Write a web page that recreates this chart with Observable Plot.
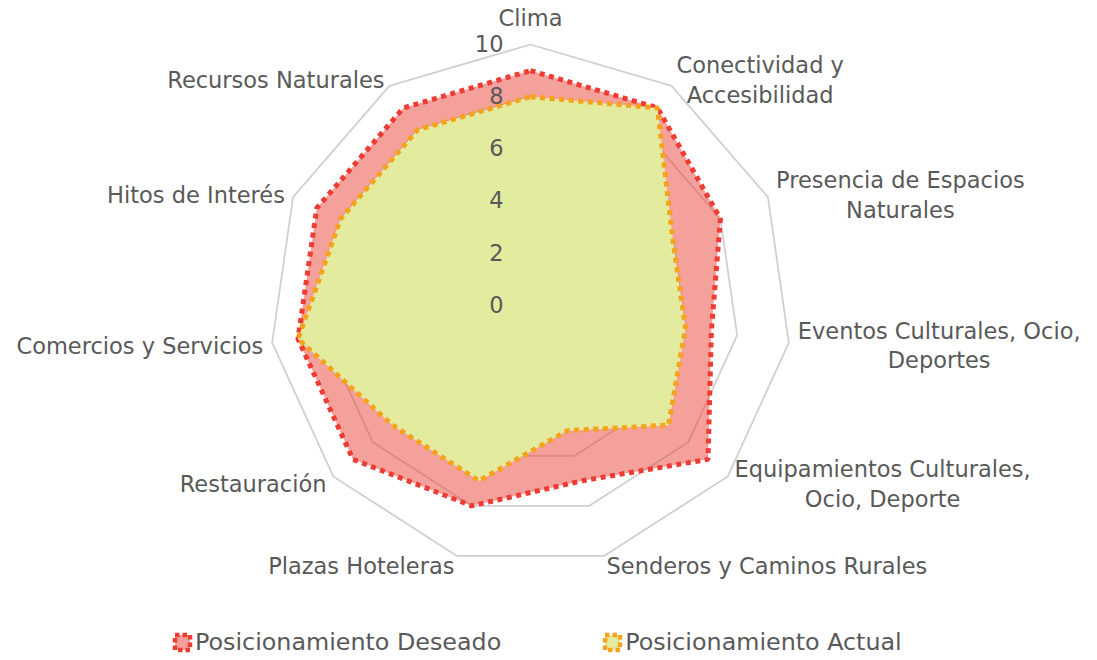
<!DOCTYPE html>
<html>
<head>
<meta charset="utf-8">
<script src="https://cdn.jsdelivr.net/npm/d3@7"></script>
<script src="https://cdn.jsdelivr.net/npm/@observablehq/plot@0.6"></script>
<style>
  body { margin: 0; background: #fff; font-family: "DejaVu Sans", sans-serif; }
  #wrap { position: relative; width: 1097px; height: 660px; overflow: hidden; }
  #legend { position: absolute; left: 172px; top: 628px; display: flex; align-items: center;
            font-size: 23.8px; color: #595959; white-space: nowrap; }
  .item { display: flex; align-items: center; }
  .item + .item { margin-left: 101px; }
  .item svg { margin-right: 2px; }
</style>
</head>
<body>
<div id="wrap"><div id="chart"></div><div id="legend"></div></div>
<script>
// ---- data ----
const categories = [
  "Clima",
  "Conectividad y\nAccesibilidad",
  "Presencia de Espacios\nNaturales",
  "Eventos Culturales, Ocio,\nDeportes",
  "Equipamientos Culturales,\nOcio, Deporte",
  "Senderos y Caminos Rurales",
  "Plazas Hoteleras",
  "Restauración",
  "Comercios y Servicios",
  "Hitos de Interés",
  "Recursos Naturales"
];
const deseado = [9, 9, 8, 7, 9, 7, 8, 9, 9, 9, 9];
const actual  = [8, 9, 6, 6, 7, 5, 7, 7, 9, 8, 8];
const tickValues = [0, 2, 4, 6, 8, 10];
const seriesNames = ["Posicionamiento Deseado", "Posicionamiento Actual"];

// ---- layout / style ----
const W = 1097, H = 620;
const CX = 530, CY = 305, PX = 26.1;         // center and pixels per unit
const FONT = 22.5, FAMILY = "DejaVu Sans";
const TEXT = "#595959", GRID = "#D0D0D0";
const RED = "#EE3B33", RED_FILL = "#E94137", ORANGE = "#F7A21B", GREEN_FILL = "#E2EB9E";
const n = categories.length;
const ang = i => 2 * Math.PI * i / n;
const px = (r, i) => r * Math.sin(ang(i));
const py = (r, i) => r * Math.cos(ang(i));
const labelR = 270 / PX;

const polygon = (vals, name) => vals.map((v, i) => ({name, i, v, x: px(v, i), y: py(v, i)}));
const gridPts = tickValues.filter(t => t > 0).flatMap(t =>
  categories.map((c, i) => ({t, x: px(t, i), y: py(t, i)})));

// measure text for label block widths
const ctx = document.createElement("canvas").getContext("2d");
ctx.font = `${FONT}px "${FAMILY}"`;
const blockW = s => d3.max(s.split("\n"), l => ctx.measureText(l).width);

const labels = categories.map((c, i) => {
  const s = Math.sin(ang(i));
  const side = Math.abs(s) < 0.1 ? 0 : Math.sign(s);
  const half = blockW(c) / 2 / PX;
  return {c, i, side, x: px(labelR, i) + side * half, y: py(labelR, i)};
});

const dotted = {strokeWidth: 5, strokeDasharray: "5,4.6", strokeLinecap: "butt", strokeLinejoin: "miter"};

const chart = Plot.plot({
  width: W, height: H,
  margin: 0,
  x: {domain: [-CX / PX, (W - CX) / PX], axis: null},
  y: {domain: [-(H - CY) / PX, CY / PX], axis: null},
  style: {fontFamily: FAMILY, fontSize: FONT + "px", color: TEXT, background: "white"},
  marks: [
    Plot.line(gridPts, {x: "x", y: "y", z: "t", curve: "linear-closed", stroke: GRID, strokeWidth: 1.8}),
    Plot.line(polygon(deseado, seriesNames[0]), {x: "x", y: "y", curve: "linear-closed",
      fill: RED_FILL, fillOpacity: 0.5, stroke: RED, ...dotted}),
    Plot.line(polygon(actual, seriesNames[1]), {x: "x", y: "y", curve: "linear-closed",
      fill: GREEN_FILL, fillOpacity: 1, stroke: ORANGE, ...dotted}),
    Plot.text(tickValues, {x: 0, y: d => d, text: d => String(d), textAnchor: "end", dx: -27,
      fill: TEXT, fontSize: FONT}),
    Plot.text(labels.filter(d => d.side === 0), {x: "x", y: "y", text: "c", textAnchor: "middle",
      lineAnchor: "bottom", dy: -10, fill: TEXT, fontSize: FONT, lineHeight: 1.33}),
    Plot.text(labels.filter(d => d.side !== 0), {x: "x", y: "y", text: "c", textAnchor: "middle",
      lineAnchor: "middle", fill: TEXT, fontSize: FONT, lineHeight: 1.33})
  ]
});
document.getElementById("chart").append(chart);

// legend
const legend = d3.select("#legend");
[[RED, RED_FILL, 0.5], [ORANGE, GREEN_FILL, 1]].forEach(([stroke, fill, op], k) => {
  const it = legend.append("div").attr("class", "item");
  const svg = it.append("svg").attr("width", 21).attr("height", 21);
  svg.append("rect").attr("x", 3).attr("y", 3).attr("width", 15).attr("height", 15)
    .attr("fill", fill).attr("fill-opacity", op)
    .attr("stroke", stroke).attr("stroke-width", 4.5).attr("stroke-dasharray", "4.5,3");
  it.append("span").text(seriesNames[k]);
});
</script>
</body>
</html>
